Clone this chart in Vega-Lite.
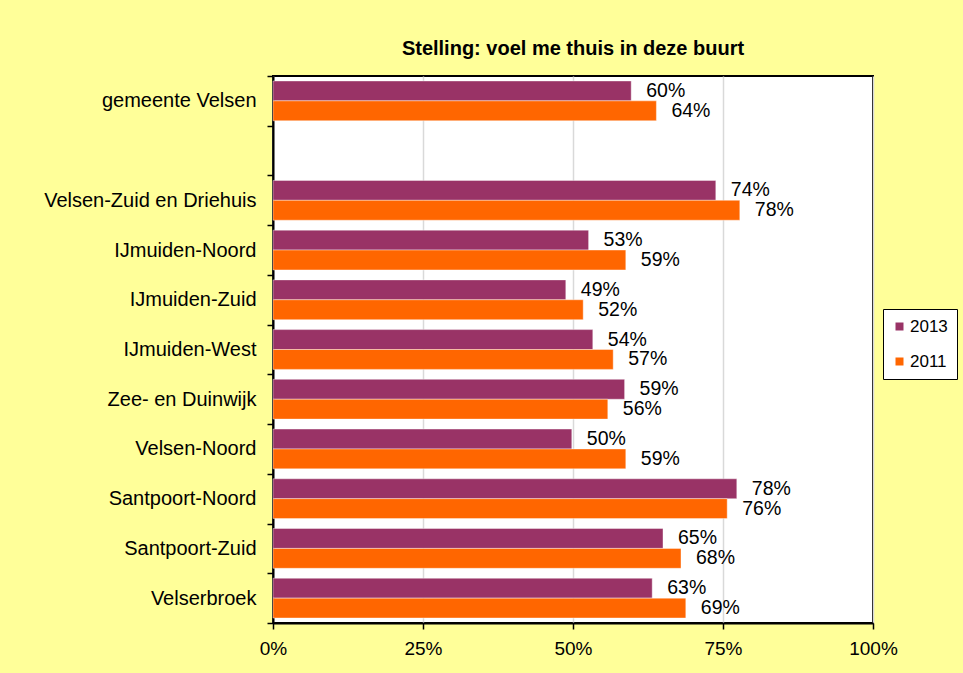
{
  "$schema": "https://vega.github.io/schema/vega-lite/v6.json",
  "autosize": {"type": "none"},
  "padding": {"left": 273, "top": 76, "right": 90, "bottom": 50},
  "width": 600,
  "height": 547,
  "background": "#FFFF99",
  "config": {
    "font": "Liberation Sans",
    "view": {"stroke": "black", "strokeWidth": 2, "fill": "white"}
  },
  "title": {
    "text": "Stelling: voel me thuis in deze buurt",
    "fontSize": 20,
    "fontWeight": "bold",
    "color": "black",
    "anchor": "middle",
    "offset": 7
  },
  "data": {
    "values": [
      {"gebied": "gemeente Velsen", "jaar": "2013", "waarde": 59.7, "label": "60%"},
      {"gebied": "gemeente Velsen", "jaar": "2011", "waarde": 63.9, "label": "64%"},
      {"gebied": "Velsen-Zuid en Driehuis", "jaar": "2013", "waarde": 73.8, "label": "74%"},
      {"gebied": "Velsen-Zuid en Driehuis", "jaar": "2011", "waarde": 77.8, "label": "78%"},
      {"gebied": "IJmuiden-Noord", "jaar": "2013", "waarde": 52.6, "label": "53%"},
      {"gebied": "IJmuiden-Noord", "jaar": "2011", "waarde": 58.8, "label": "59%"},
      {"gebied": "IJmuiden-Zuid", "jaar": "2013", "waarde": 48.8, "label": "49%"},
      {"gebied": "IJmuiden-Zuid", "jaar": "2011", "waarde": 51.7, "label": "52%"},
      {"gebied": "IJmuiden-West", "jaar": "2013", "waarde": 53.3, "label": "54%"},
      {"gebied": "IJmuiden-West", "jaar": "2011", "waarde": 56.7, "label": "57%"},
      {"gebied": "Zee- en Duinwijk", "jaar": "2013", "waarde": 58.6, "label": "59%"},
      {"gebied": "Zee- en Duinwijk", "jaar": "2011", "waarde": 55.8, "label": "56%"},
      {"gebied": "Velsen-Noord", "jaar": "2013", "waarde": 49.8, "label": "50%"},
      {"gebied": "Velsen-Noord", "jaar": "2011", "waarde": 58.8, "label": "59%"},
      {"gebied": "Santpoort-Noord", "jaar": "2013", "waarde": 77.3, "label": "78%"},
      {"gebied": "Santpoort-Noord", "jaar": "2011", "waarde": 75.7, "label": "76%"},
      {"gebied": "Santpoort-Zuid", "jaar": "2013", "waarde": 65.0, "label": "65%"},
      {"gebied": "Santpoort-Zuid", "jaar": "2011", "waarde": 68.0, "label": "68%"},
      {"gebied": "Velserbroek", "jaar": "2013", "waarde": 63.2, "label": "63%"},
      {"gebied": "Velserbroek", "jaar": "2011", "waarde": 68.8, "label": "69%"}
    ]
  },
  "encoding": {
    "y": {
      "field": "gebied",
      "type": "nominal",
      "scale": {
        "domain": ["gemeente Velsen", " ", "Velsen-Zuid en Driehuis", "IJmuiden-Noord", "IJmuiden-Zuid", "IJmuiden-West", "Zee- en Duinwijk", "Velsen-Noord", "Santpoort-Noord", "Santpoort-Zuid", "Velserbroek"],
        "paddingInner": 0,
        "paddingOuter": 0
      },
      "axis": {
        "title": null,
        "tickBand": "extent",
        "domainColor": "black",
        "domainWidth": 2,
        "tickColor": "black",
        "tickWidth": 1.5,
        "tickSize": 6,
        "labelFontSize": 20,
        "labelColor": "black",
        "labelPadding": 11,
        "labelLimit": 300,
        "grid": false
      }
    },
    "yOffset": {
      "field": "jaar",
      "type": "nominal",
      "scale": {"domain": ["2013", "2011"], "paddingInner": 0, "paddingOuter": 0.25}
    },
    "x": {
      "field": "waarde",
      "type": "quantitative",
      "scale": {"domain": [0, 100]},
      "axis": {
        "title": null,
        "values": [0, 25, 50, 75, 100],
        "labelExpr": "datum.value + '%'",
        "grid": true,
        "gridColor": "#d9d9d9",
        "gridWidth": 1.5,
        "domainColor": "black",
        "domainWidth": 2,
        "tickColor": "black",
        "tickWidth": 1.5,
        "tickSize": 6,
        "labelFontSize": 19,
        "labelColor": "black",
        "labelPadding": 10,
        "labelFlush": false
      }
    }
  },
  "layer": [
    {
      "mark": {"type": "bar", "stroke": "white", "strokeWidth": 1, "strokeOpacity": 0.4},
      "encoding": {
        "color": {
          "field": "jaar",
          "type": "nominal",
          "scale": {"domain": ["2013", "2011"], "range": ["#993366", "#FF6600"]},
          "legend": {
            "title": null,
            "orient": "none",
            "legendX": 610,
            "legendY": 233,
            "strokeColor": "black",
            "fillColor": "white",
            "padding": 9,
            "symbolType": "square",
            "symbolSize": 64,
            "symbolStrokeWidth": 0,
            "symbolOffset": -1,
            "labelFontSize": 17,
            "labelColor": "black",
            "labelOffset": 2,
            "rowPadding": 17
          }
        }
      }
    },
    {
      "mark": {"type": "text", "align": "left", "baseline": "middle", "dx": 15, "fontSize": 19.5, "color": "black"},
      "encoding": {"text": {"field": "label"}}
    }
  ]
}
